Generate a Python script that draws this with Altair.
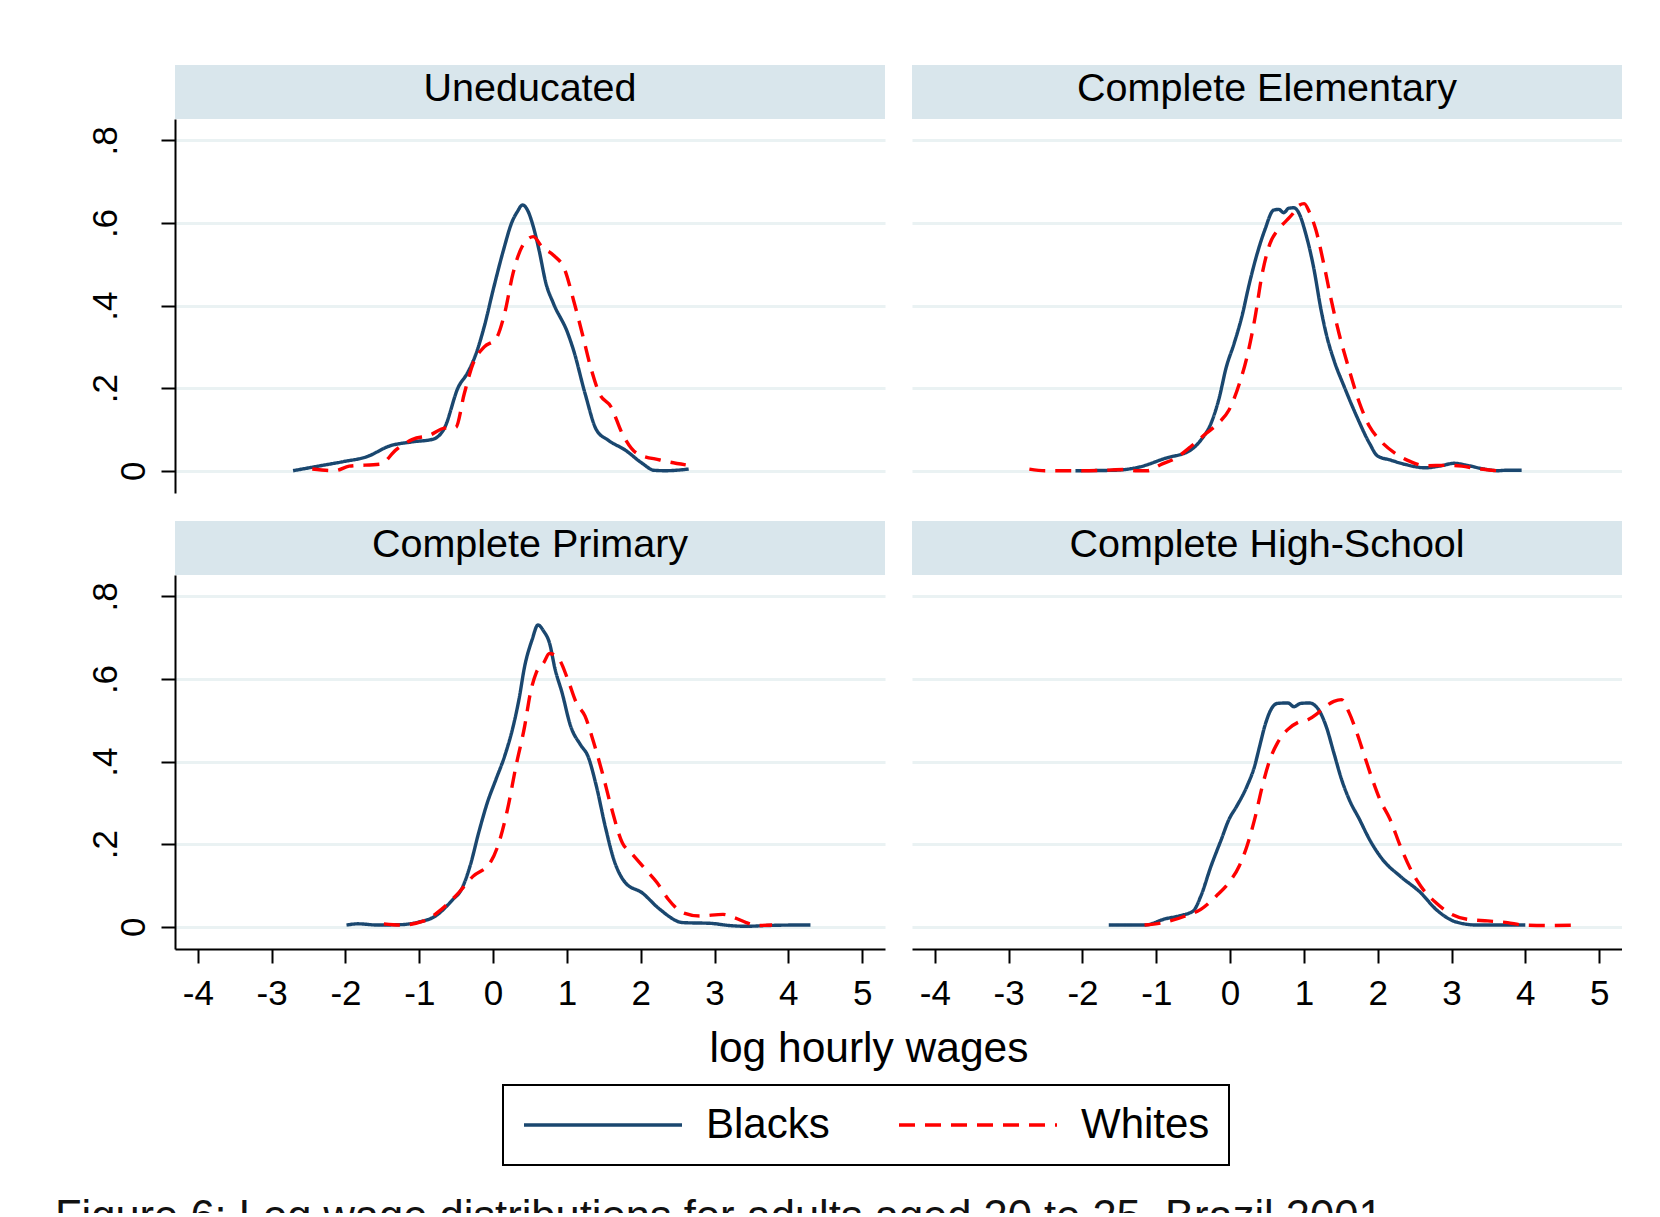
import altair as alt
import pandas as pd

FONT = "Liberation Sans"
NAVY = "#1a476f"
RED = "#ff0000"
GRID = "#eaf2f3"
STRIP_FILL = "#d9e6ec"

PANELS = ["Uneducated", "Complete Elementary", "Complete Primary", "Complete High-School"]
GROUPS = ["Blacks", "Whites"]
X_TICKS = [-4, -3, -2, -1, 0, 1, 2, 3, 4, 5]
Y_TICKS = [0, 0.2, 0.4, 0.6, 0.8]
CAPTION = "Figure 6: Log wage distributions for adults aged 20 to 25, Brazil 2001"
X_TITLE = "log hourly wages"

# Kernel density estimates of log hourly wages, by schooling level and race
unedu_blacks_x = [-2.71, -2.34, -2.03, -1.71, -1.40, -1.09, -0.82, -0.66, -0.47, -0.35, -0.23, -0.12, 0.0,
                  0.14, 0.257, 0.327, 0.40, 0.467, 0.545, 0.623, 0.716, 0.818, 1.012, 1.09, 1.246, 1.40,
                  1.558, 1.79, 2.02, 2.18, 2.34, 2.65]
unedu_blacks_y = [0.0, 0.012, 0.022, 0.034, 0.06, 0.07, 0.076, 0.103, 0.203, 0.236, 0.284, 0.349, 0.4375,
                  0.534, 0.603, 0.627, 0.644, 0.631, 0.591, 0.534, 0.454, 0.405, 0.333, 0.292, 0.187, 0.099,
                  0.074, 0.05, 0.018, 0.001, 0.0, 0.004]
unedu_whites_x = [-2.45, -2.14, -1.95, -1.52, -1.32, -1.09, -0.86, -0.66, -0.506, -0.39, -0.27, -0.12, 0.04,
                  0.156, 0.27, 0.39, 0.545, 0.662, 0.818, 0.973, 1.09, 1.207, 1.32, 1.44, 1.597, 1.75, 1.95,
                  2.26, 2.61]
unedu_whites_y = [0.004, 0.0, 0.011, 0.016, 0.05, 0.076, 0.086, 0.103, 0.105, 0.187, 0.26, 0.30, 0.32,
                  0.381, 0.478, 0.542, 0.567, 0.542, 0.522, 0.486, 0.413, 0.333, 0.252, 0.187, 0.155, 0.09,
                  0.042, 0.026, 0.014]

elem_blacks_x = [-2.095, -1.575, -1.228, -0.88, -0.535, -0.397, -0.258, -0.154, -0.05, 0.054, 0.159, 0.262,
                 0.367, 0.47, 0.588, 0.658, 0.727, 0.796, 0.866, 0.935, 1.025, 1.13, 1.233, 1.30, 1.406,
                 1.545, 1.717, 1.89, 1.996, 2.168, 2.376, 2.65, 2.86, 3.035, 3.21, 3.415, 3.625, 3.73, 3.95]
elem_blacks_y = [0.0, 0.001, 0.009, 0.03, 0.05, 0.074, 0.115, 0.172, 0.252, 0.308, 0.373, 0.454,
                 0.526, 0.583, 0.631, 0.633, 0.625, 0.636, 0.637, 0.623, 0.574, 0.494, 0.389, 0.333, 0.268,
                 0.204, 0.131, 0.066, 0.036, 0.026, 0.015, 0.007, 0.012, 0.018, 0.013, 0.005, 0.0, 0.001, 0.001]
elem_whites_x = [-2.72, -2.51, -2.37, -2.06, -1.71, -1.436, -1.26, -1.12, -0.95, -0.743, -0.535, -0.327,
                 -0.154, -0.015, 0.124, 0.228, 0.332, 0.436, 0.54, 0.644, 0.747, 0.852, 0.935, 1.004, 1.073,
                 1.163, 1.268, 1.371, 1.475, 1.614, 1.753, 1.89, 2.03, 2.238, 2.446, 2.65, 2.93, 3.14, 3.35,
                 3.625]
elem_whites_y = [0.004, 0.0, 0.0, 0.0, 0.001, 0.003, 0.0, 0.0, 0.014, 0.03, 0.058, 0.09,
                 0.116, 0.147, 0.21, 0.275, 0.365, 0.478, 0.55, 0.583, 0.603, 0.623, 0.643, 0.647, 0.627,
                 0.583, 0.502, 0.413, 0.333, 0.244, 0.164, 0.107, 0.074, 0.042, 0.022, 0.012, 0.013, 0.011,
                 0.005, 0.0]

prim_blacks_x = [-1.986, -1.83, -1.56, -1.247, -1.012, -0.78, -0.545, -0.43, -0.312, -0.195, -0.079, 0.039,
                 0.156, 0.273, 0.35, 0.428, 0.53, 0.608, 0.685, 0.763, 0.841, 0.934, 1.05, 1.183, 1.285,
                 1.40, 1.518, 1.635, 1.79, 2.02, 2.26, 2.57, 2.96, 3.19, 3.43, 3.74, 4.05, 4.30]
prim_blacks_y = [0.004, 0.007, 0.004, 0.005, 0.011, 0.026, 0.066, 0.09, 0.147, 0.228, 0.30, 0.357,
                 0.413, 0.486, 0.55, 0.631, 0.696, 0.731, 0.716, 0.688, 0.623, 0.567, 0.486, 0.441, 0.413,
                 0.34, 0.244, 0.163, 0.107, 0.082, 0.042, 0.01, 0.008, 0.003, 0.001, 0.003, 0.004, 0.004]
prim_whites_x = [-1.48, -1.247, -0.935, -0.70, -0.468, -0.273, -0.039, 0.078, 0.195, 0.31, 0.428, 0.506,
                 0.584, 0.685, 0.763, 0.896, 1.012, 1.129, 1.246, 1.363, 1.48, 1.597, 1.752, 1.87, 2.064,
                 2.22, 2.376, 2.57, 2.80, 3.115, 3.27, 3.43, 3.58, 3.78]
prim_whites_y = [0.007, 0.004, 0.014, 0.042, 0.082, 0.122, 0.155, 0.203, 0.284, 0.389, 0.486, 0.567,
                 0.615, 0.639, 0.662, 0.647, 0.599, 0.542, 0.51, 0.446, 0.373, 0.292, 0.203, 0.179, 0.139,
                 0.107, 0.066, 0.034, 0.026, 0.03, 0.022, 0.010, 0.003, 0.004]

hs_blacks_x = [-1.644, -1.159, -0.88, -0.674, -0.50, -0.397, -0.258, -0.12, -0.015, 0.09, 0.228, 0.332,
               0.40, 0.47, 0.56, 0.644, 0.783, 0.866, 0.955, 1.073, 1.198, 1.30, 1.406, 1.51, 1.614, 1.753,
               1.89, 2.065, 2.307, 2.584, 2.79, 3.07, 3.35, 4.0]
hs_blacks_y = [0.004, 0.004, 0.019, 0.027, 0.038, 0.074, 0.147, 0.211, 0.26, 0.292, 0.34, 0.389,
               0.437, 0.486, 0.528, 0.541, 0.542, 0.533, 0.541, 0.542, 0.526, 0.486, 0.421, 0.357, 0.308,
               0.26, 0.211, 0.163, 0.122, 0.082, 0.042, 0.011, 0.004, 0.004]
hs_whites_x = [-1.159, -0.88, -0.605, -0.397, -0.189, -0.015, 0.124, 0.228, 0.332, 0.436, 0.54, 0.644,
               0.783, 0.921, 1.06, 1.163, 1.268, 1.406, 1.51, 1.614, 1.717, 1.822, 1.927, 2.03, 2.168,
               2.307, 2.446, 2.584, 2.79, 3.0, 3.21, 3.49, 3.76, 3.97, 4.32, 4.70]
hs_whites_y = [0.004, 0.011, 0.026, 0.042, 0.074, 0.107, 0.147, 0.195, 0.26, 0.34, 0.405, 0.446,
               0.478, 0.495, 0.502, 0.514, 0.53, 0.546, 0.55, 0.518, 0.47, 0.413, 0.357, 0.308, 0.26,
               0.195, 0.139, 0.098, 0.058, 0.03, 0.018, 0.014, 0.010, 0.004, 0.003, 0.004]

SERIES = [
    ("Uneducated", "Blacks", unedu_blacks_x, unedu_blacks_y),
    ("Uneducated", "Whites", unedu_whites_x, unedu_whites_y),
    ("Complete Elementary", "Blacks", elem_blacks_x, elem_blacks_y),
    ("Complete Elementary", "Whites", elem_whites_x, elem_whites_y),
    ("Complete Primary", "Blacks", prim_blacks_x, prim_blacks_y),
    ("Complete Primary", "Whites", prim_whites_x, prim_whites_y),
    ("Complete High-School", "Blacks", hs_blacks_x, hs_blacks_y),
    ("Complete High-School", "Whites", hs_whites_x, hs_whites_y),
]

rows = []
for panel, group, xs, ys in SERIES:
    for x, y in zip(xs, ys):
        rows.append({"panel": panel, "group": group, "wage": x, "density": y})
df = pd.DataFrame(rows)

X_DOMAIN = [-4.31, 5.31]
Y_DOMAIN = [-0.054, 0.852]
PW, PH = 710, 374
STRIP_H = 54

legend = alt.Legend(
    title=None, orient="none", legendX=448, legendY=1020, direction="horizontal",
    symbolType="stroke", symbolSize=24964, symbolStrokeWidth=3.5,
    labelFont=FONT, labelFontSize=42, labelColor="black", labelOffset=22,
    columnPadding=67, padding=19, strokeColor="black", clipHeight=42,
)


def strip(name):
    base = alt.Chart(pd.DataFrame({"panel": [name]}))
    band = base.mark_rect(color=STRIP_FILL).encode(
        x=alt.value(0), x2=alt.value(PW), y=alt.value(0), y2=alt.value(STRIP_H)
    )
    label = base.mark_text(font=FONT, fontSize=39.5, align="center", baseline="alphabetic",
                           color="black").encode(
        x=alt.value(PW / 2), y=alt.value(36), text="panel:N"
    )
    return alt.layer(band, label).properties(width=PW, height=STRIP_H)


def density_panel(name, show_y, show_x):
    if show_y:
        y_axis = alt.Axis(
            values=Y_TICKS, grid=True, title=None, labelAngle=270, labelAlign="center",
            labelBaseline={"condition": {"test": "datum.value === 0", "value": "top"},
                           "value": "alphabetic"},
            labelPadding=45, labelFontSize=35,
            labelExpr="datum.value === 0 ? '0' : replace(format(datum.value, '.1f'), '0.', '.')",
        )
    else:
        y_axis = alt.Axis(values=Y_TICKS, grid=True, title=None, labels=False, ticks=False, domain=False)
    x_axis = (alt.Axis(values=X_TICKS, grid=False, title=None, labelPadding=13, labelFontSize=35,
                       labelExpr="'' + datum.value") if show_x else None)
    lines = alt.Chart(df).transform_filter(alt.datum.panel == name).mark_line(
        strokeWidth=3.4, interpolate="monotone"
    ).encode(
        x=alt.X("wage:Q", scale=alt.Scale(domain=X_DOMAIN, nice=False, zero=False), axis=x_axis),
        y=alt.Y("density:Q", scale=alt.Scale(domain=Y_DOMAIN, nice=False, zero=False), axis=y_axis),
        color=alt.Color("group:N", scale=alt.Scale(domain=GROUPS, range=[NAVY, RED]), legend=legend),
        strokeDash=alt.StrokeDash("group:N", scale=alt.Scale(domain=GROUPS, range=[[1, 0], [16, 10]]),
                                  legend=legend),
    ).properties(width=PW, height=PH)
    return alt.vconcat(strip(name), lines, spacing=0, bounds="flush")


row1 = alt.hconcat(density_panel(PANELS[0], True, False), density_panel(PANELS[1], False, False), spacing=27)
row2 = alt.hconcat(
    density_panel(PANELS[2], True, True), density_panel(PANELS[3], False, True), spacing=27,
    title=alt.TitleParams(X_TITLE, orient="bottom", anchor="middle", font=FONT, fontSize=42.5,
                          fontWeight="normal", color="black", offset=17, dx=14),
)
grid = alt.vconcat(row1, row2, spacing=28)

# empty left gutter so the figure caption can start further left than the panels
gutter = alt.Chart(pd.DataFrame({"v": [0]})).mark_rect(opacity=0).encode(
    x=alt.value(0), x2=alt.value(1), y=alt.value(0), y2=alt.value(1)
).properties(width=1, height=1)
body = alt.hconcat(gutter, grid, spacing=31)

caption = alt.Chart(pd.DataFrame({"text": [CAPTION]})).mark_text(
    font=FONT, fontSize=43.5, align="left", baseline="alphabetic", color="#111111", clip=True
).encode(x=alt.value(0), y=alt.value(35), text="text:N").properties(width=1340, height=17)

chart = alt.vconcat(body, caption, spacing=125).properties(
    padding={"left": 55, "top": 65, "right": 0, "bottom": 0}
).configure_view(stroke=None).configure_axis(
    labelFont=FONT, labelFontSize=34, labelColor="black", domainColor="black", domainWidth=2,
    tickColor="black", tickWidth=2, tickSize=14, gridColor=GRID, gridWidth=3,
).configure_legend(strokeWidth=2)

chart.save("out.html", embed_options={"renderer": "svg", "actions": False})
